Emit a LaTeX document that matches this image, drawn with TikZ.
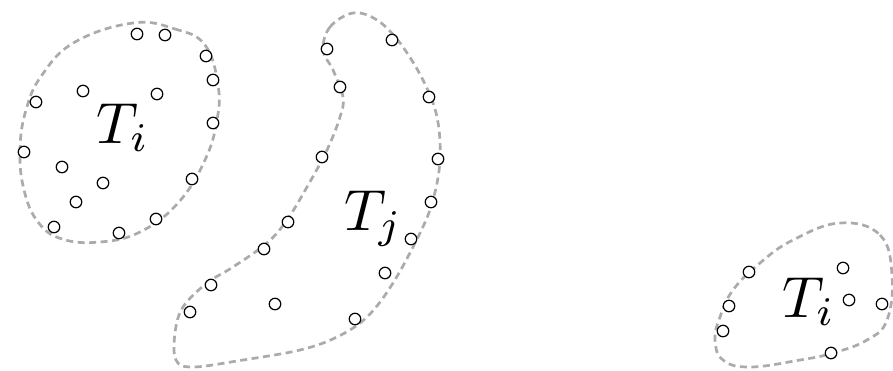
\documentclass[tikz,border=0pt]{standalone}
\usetikzlibrary{calc}
\begin{document}
\begin{tikzpicture}[x=1pt,y=-1pt,
  pt/.style={circle,draw=black,line width=1.2pt,minimum size=11.5pt,inner sep=0pt,fill=white},
  blob/.style={draw=black!33,line width=2.7pt,dash pattern=on 7pt off 4.5pt},
  lbl/.style={inner sep=0pt,anchor=base west,scale=5.8}]
\useasboundingbox (0,0) rectangle (893,370);
% left cluster
\draw[blob] plot[smooth cycle,tension=0.7] coordinates{(133,23) (175,29) (205,45) (218,85) (217,120) (205,160) (178,203) (140,232) (100,242) (62,239) (38,222) (24,190) (20,150) (26,110) (42,75) (75,42)};
\node[lbl] (ti) at (95,143) {$T_i$};
\foreach \n/\x/\y in {a1/137/34,a2/165/35,a3/206/56,a4/213/80,a5/36/102,a6/83/91,a7/157/94,a8/213/123,a9/24/152,a10/62/167,a11/103/183,a12/76/202,a13/192/179,a14/156/219,a15/119/233,a16/54/227}
  \node[pt] (\n) at (\x,\y) {};
% middle cluster
\draw[blob] plot[smooth cycle,tension=0.6] coordinates{(353,13) (330,27) (323,50) (333,70) (343,97) (340,117) (327,150) (307,187) (287,220) (267,243) (233,267) (207,283) (183,307) (175,333) (176,360) (193,367) (243,360) (300,350) (337,337) (367,317) (393,283) (420,233) (433,200) (440,160) (437,117) (423,80) (400,43) (377,20)};
\node[lbl] (tj) at (343,230) {$T_j$};
\foreach \n/\x/\y in {b1/327/49,b2/392/40,b3/340/87,b4/429/97,b5/322/157,b6/438/159,b7/431/202,b8/288/222,b9/411/239,b10/264/249,b11/385/273,b12/211/285,b13/275/304,b14/190/312,b15/355/319}
  \node[pt] (\n) at (\x,\y) {};
% right cluster
\draw[blob] plot[smooth cycle,tension=0.7] coordinates{(840,223) (880,235) (892,275) (887,320) (867,340) (833,353) (800,360) (750,367) (723,360) (715,340) (720,317) (733,290) (760,263) (793,240)};
\node[lbl] (ti2) at (781,317) {$T_i$};
\foreach \n/\x/\y in {c1/749/272,c2/843/268,c3/849/300,c4/882/304,c5/729/306,c6/723/331,c7/831/353}
  \node[pt] (\n) at (\x,\y) {};
\end{tikzpicture}
\end{document}
